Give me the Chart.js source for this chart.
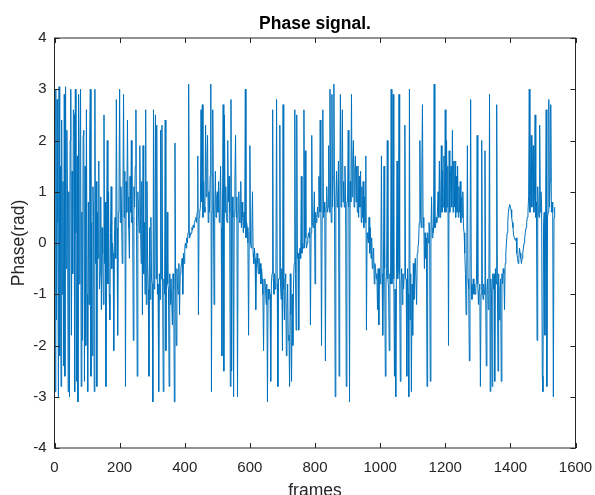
<!DOCTYPE html>
<html>
<head>
<meta charset="utf-8">
<script src="https://cdn.jsdelivr.net/npm/chart.js@4/dist/chart.umd.min.js"></script>
<style>
  html, body { margin: 0; padding: 0; background: #ffffff; }
  canvas { display: block; }
</style>
</head>
<body>
<canvas id="chart" width="595" height="495"></canvas>
<script>
// ---------- data ----------
const chartTitle = 'Phase signal.';
const xAxisLabel = 'frames';
const yAxisLabel = 'Phase(rad)';
const xTickValues = [0, 200, 400, 600, 800, 1000, 1200, 1400, 1600];
const yTickValues = [-4, -3, -2, -1, 0, 1, 2, 3, 4];
const frameStep = 2; // one sample read every 2 frames
// phase (rad), one value per 2 frames starting at frame 0
const phase = [
  1.9, -2.9, 3.0, -1.5, 2.8, 0.4, -3.0, 3.05, -2.2, 1.5, -2.8, 2.4, -1.0, 1.2, -2.4,
  2.9, -2.6, 3.05, -0.5, 2.2, 0.8, -2.9, 1.0, -3.0, 2.0, 3.0, -1.8, 1.4, -0.6, 2.6,
  2.5, -2.9, 3.0, 0.2, -2.7, 1.7, -3.1, 2.9, -0.8, 1.8, 3.0, -2.8, 0.6, -1.9, 2.1,
  2.2, -2.7, 1.5, -2.0, 2.6, -1.0, -2.9, 0.8, -1.2, 2.0, 3.0, -2.6, 0.4, -2.2, 1.1,
  0.5, -2.9, 3.0, -0.4, 1.2, -2.8, 0.6, -0.3, 1.6, -0.9, -0.6, 0.9, -1.3, 0.3, -0.2,
  -1.2, 2.5, -0.4, 0.8, -2.8, 0.3, 2.0, -0.8, 1.0, -1.0, -1.5, 0.2, 1.1, -0.5, 0.0,
  -0.2, -2.1, 0.1, 0.5, -0.3, 2.8, 0.3, -1.8, 0.6, 0.9, 3.0, 0.4, 1.1, 0.5, -0.4,
  0.8, 2.9, 0.5, 1.4, -2.8, 1.2, 0.6, 2.4, 0.9, 0.3, -0.3, 1.3, 0.6, 2.0, 0.4,
  0.5, -1.9, 1.1, 0.7, 1.5, 2.6, 0.3, -2.6, 1.0, 0.6, 0.2, 1.9, 0.5, -0.4, 1.2,
  -1.4, 1.9, -0.6, 0.4, -1.0, 2.6, -1.2, 1.2, -0.4, -0.9, -2.6, 0.3, -1.1, 0.5, -0.7,
  -0.8, -3.1, 2.6, -0.9, -0.6, 2.5, -0.7, 2.3, -1.0, -0.8, -2.9, -0.6, -1.1, 2.2, -0.7,
  2.3, -0.8, -2.9, -0.7, -1.0, 2.4, -2.1, -0.6, 0.6, -0.8, -0.9, -2.8, -0.6, -1.2, -0.7,
  -0.7, -1.6, -0.6, -0.9, -3.1, 1.95, -0.8, -2.0, -0.5, -0.9, -1.0, -0.4, -1.4, -0.6, -0.5,
  -0.4, -0.3, -1.0, -0.2, -0.4, -0.1, 0.0, -0.1, 0.1, 0.0, 0.2, 3.1, 0.1, 0.2, 0.15,
  0.2, 0.3, 0.25, 0.35, 0.3, 0.4, 0.45, 0.5, 0.4, 0.6, 1.7, -1.4, 0.5, 0.6, 0.7,
  2.6, 0.8, 2.7, 0.5, 1.2, 0.7, 0.6, 2.3, 0.9, 1.5, 2.1, 0.4, 1.0, 0.6, 1.3,
  3.1, -2.9, 0.6, 2.6, 0.8, -1.2, 0.5, 1.4, 0.5, 0.9, 1.0, 0.6, 1.2, 0.4, 0.8,
  1.5, 0.3, -2.2, 0.7, 2.7, -2.5, 2.5, 0.6, 1.1, 0.5, 0.4, 2.0, 0.8, 1.3, 0.6,
  -2.8, 2.8, -2.5, 0.9, 0.5, -3.0, 0.6, 1.2, 2.1, 0.5, 0.9, -3.0, 0.6, 1.0, 0.4,
  0.4, 1.2, 0.3, 0.8, 0.5, 0.2, 0.6, 0.3, 3.0, 0.1, 0.4, 0.3, 0.0, -1.8, 0.2,
  1.9, 0.0, -0.1, 0.2, 1.0, -0.2, -0.4, -0.1, -0.3, -1.3, -0.5, -0.2, -0.4, -0.6, -0.3,
  -0.6, -0.4, -0.8, -0.5, -0.7, -1.0, -2.1, -0.8, -0.7, -0.9, -1.2, -0.8, -3.1, -0.9, -1.1,
  -0.9, -1.0, -2.7, -0.8, -0.6, 2.6, -0.7, -1.0, -0.6, -0.9, -0.5, 2.8, -0.8, -2.8, -0.7,
  -0.7, 2.3, -0.8, -1.1, -0.5, -2.1, 2.7, -0.9, -1.5, -0.7, -0.6, -2.2, -1.3, -0.8, -1.9,
  -1.8, -2.8, -0.6, -1.4, -2.7, -1.0, -2.0, -0.8, -0.4, 2.6, -0.6, -1.7, 2.5, -0.3, -0.2,
  -1.7, -0.2, -0.1, -0.3, 1.3, -0.2, 0.0, -0.1, 2.6, -0.1, 1.8, 0.1, -0.1, 0.0, 0.1,
  0.2, 0.1, 0.3, -1.6, 0.2, 2.1, 0.4, 0.3, 0.5, 1.0, -0.8, 0.6, 0.4, 0.5, 0.7,
  0.5, 1.3, 0.6, 2.4, 0.6, -2.0, 0.5, 2.6, 0.5, 0.8, 0.6, -2.3, 0.7, 1.1, 0.6,
  0.7, 1.9, 0.6, 3.0, 0.8, 0.4, 2.9, 0.7, 1.3, 3.1, 0.6, -3.0, 0.8, 1.4, 0.7,
  0.8, 1.6, -2.6, 0.7, 2.9, 0.7, 1.1, 2.6, 0.8, 1.2, 0.7, 1.5, 0.9, -2.8, 0.8,
  0.8, 2.2, 0.7, -3.1, 1.2, 0.8, 2.9, 0.9, 1.6, 2.0, 0.7, 1.4, 1.7, 0.8, 1.5,
  0.6, 1.5, 0.5, 1.3, 0.7, 1.4, 0.4, 1.1, 0.5, 1.2, 0.3, 0.9, 0.4, 1.7, -1.7,
  0.2, 0.1, 0.0, 0.5, -0.2, 0.3, -0.3, 0.1, -0.5, -0.3, -0.1, -0.8, -0.4, -0.5, -0.7,
  -0.6, -1.3, -0.5, -1.6, -0.5, -0.8, -0.7, 1.7, -0.6, -1.8, -0.7, 1.5, -0.5, -2.6, -0.8,
  -0.5, 2.0, -0.7, -0.9, -2.1, -0.6, -0.8, 3.0, -0.8, -0.6, 2.9, -0.7, -2.6, -0.9, -3.0,
  -0.6, 1.6, -0.7, -0.5, 2.9, -0.6, -2.7, -0.8, -0.5, -1.2, -0.6, -0.9, -0.6, 2.3, -0.7,
  -0.7, -2.6, -0.5, -1.0, -3.0, 3.0, -1.5, -0.6, -2.9, -0.8, -1.8, -0.4, -1.1, -0.5, -0.3,
  -0.3, -1.2, -0.2, -0.1, 0.0, 0.4, 2.0, 0.6, 0.3, 1.4, 2.7, 0.3, 0.5, -0.5, 0.2,
  -0.3, 0.1, -2.8, 0.2, 0.0, 0.4, 0.3, -2.7, 0.2, 0.9, 0.1, 0.3, 0.2, 3.1, 0.3,
  0.3, 0.5, 0.4, 0.6, 1.0, 0.5, 1.6, 0.5, 0.8, 1.9, 0.6, 1.4, 0.7, 1.7, 0.6,
  2.6, 0.6, 2.0, 0.7, 1.5, -2.0, 1.8, 0.6, 1.3, 1.5, 0.7, 2.2, 0.6, 1.6, 0.7,
  1.6, 0.5, 1.3, 0.6, 1.5, 0.5, 1.1, 0.6, 1.2, 0.4, 0.9, 0.5, 1.0, 0.3, 0.2,
  -0.2, -0.6, -1.4, -0.5, 1.9, -0.7, -0.9, -2.3, -0.6, 2.8, -0.8, -1.1, -0.9, -0.7, -1.0,
  -0.8, -1.0, -0.9, -0.7, 2.1, -0.8, -1.2, -0.9, -0.8, -2.8, -1.0, 2.0, -0.9, -1.1, -0.8,
  -1.0, 1.8, -0.8, -2.4, -0.9, -0.7, -1.3, -0.8, 2.9, -2.9, -0.7, -1.0, -2.8, -0.6, -0.9,
  -0.6, -2.7, -0.5, -0.8, 2.7, -0.7, -2.5, -0.6, -1.5, -0.9, -0.7, -2.7, -0.6, -0.8, -0.5,
  -0.6, -1.3, -0.4, -0.2, 0.0, 0.2, 0.4, 0.6, 0.7, 0.75, 0.7, 0.65, 0.5, 0.4, 0.3,
  0.15, 0.1, 0.1, 0.05, 0.1, -0.2, -0.3, -0.4, -0.3, -0.1, -0.2, -0.3, -0.4, -0.3, -0.2,
  -0.1, 0.0, 0.1, 0.2, 0.3, 0.4, 0.5, 0.6, 0.9, 3.0, 0.6, 1.2, 2.1, 0.7, 1.5,
  1.9, 0.6, 1.0, 2.5, 0.5, 0.8, -1.9, 1.1, 0.6, 0.5, 2.3, 0.6, 1.0, 0.7, -2.6,
  -2.9, 0.4, 0.6, -1.8, 0.3, 2.6, -2.8, 0.5, 0.6, 2.8, 0.7, 1.2, 2.7, 0.6, 0.8,
  0.6, -3.0, 0.5, 0.7
];

// ---------- chart ----------
const FONT = '"Liberation Sans", Arial, Helvetica, sans-serif';
const AXIS_COLOR = '#262626';
const points = phase.map((v, i) => ({ x: i * frameStep, y: v }));

const matlabAxesPlugin = {
  id: 'matlabAxes',
  afterDraw(chart) {
    const { ctx, chartArea: a, scales } = chart;
    ctx.save();
    ctx.strokeStyle = AXIS_COLOR;
    ctx.lineWidth = 1;
    ctx.strokeRect(a.left, a.top, a.right - a.left, a.bottom - a.top);
    const tl = 5;
    ctx.beginPath();
    xTickValues.forEach(v => {
      const px = Math.round(scales.x.getPixelForValue(v)) + 0.5;
      ctx.moveTo(px, a.bottom); ctx.lineTo(px, a.bottom - tl);
      ctx.moveTo(px, a.top); ctx.lineTo(px, a.top + tl);
    });
    yTickValues.forEach(v => {
      const py = Math.round(scales.y.getPixelForValue(v)) + 0.5;
      ctx.moveTo(a.left, py); ctx.lineTo(a.left + tl, py);
      ctx.moveTo(a.right, py); ctx.lineTo(a.right - tl, py);
    });
    ctx.stroke();
    // title
    ctx.fillStyle = '#000000';
    ctx.font = 'bold 17.5px ' + FONT;
    ctx.textAlign = 'center';
    ctx.textBaseline = 'alphabetic';
    ctx.fillText(chartTitle, (a.left + a.right) / 2, 29);
    ctx.restore();
  }
};

new Chart(document.getElementById('chart'), {
  type: 'line',
  data: {
    datasets: [{
      data: points,
      borderColor: 'rgb(0,114,189)',
      borderWidth: 1,
      pointRadius: 0,
      tension: 0,
      fill: false
    }]
  },
  options: {
    responsive: false,
    animation: false,
    devicePixelRatio: 1,
    layout: { padding: { top: 38, right: 19.5, left: 0, bottom: 0 } },
    plugins: {
      legend: { display: false },
      title: { display: false },
      tooltip: { enabled: false }
    },
    scales: {
      x: {
        type: 'linear',
        min: 0, max: 1600,
        afterBuildTicks: s => { s.ticks = xTickValues.map(v => ({ value: v })); },
        afterFit: s => { s.height = 47; s.paddingLeft = 0; s.paddingRight = 0; },
        grid: { display: false, drawTicks: false },
        border: { display: false },
        ticks: { padding: 11, color: AXIS_COLOR, font: { family: FONT, size: 15 }, maxRotation: 0, autoSkip: false, callback: v => String(v) },
        title: { display: true, text: xAxisLabel, color: AXIS_COLOR, font: { family: FONT, size: 17.5 }, padding: { top: 0, bottom: -7 } }
      },
      y: {
        type: 'linear',
        min: -4, max: 4,
        afterBuildTicks: s => { s.ticks = yTickValues.map(v => ({ value: v })); },
        afterFit: s => { s.width = 54.5; s.paddingTop = 0; s.paddingBottom = 0; },
        grid: { display: false, drawTicks: false },
        border: { display: false },
        ticks: { padding: 8, color: AXIS_COLOR, font: { family: FONT, size: 15 }, autoSkip: false, callback: v => String(v) },
        title: { display: true, text: yAxisLabel, color: AXIS_COLOR, font: { family: FONT, size: 17.5 }, padding: { top: 9, bottom: 0 } }
      }
    }
  },
  plugins: [matlabAxesPlugin]
});
</script>
</body>
</html>
